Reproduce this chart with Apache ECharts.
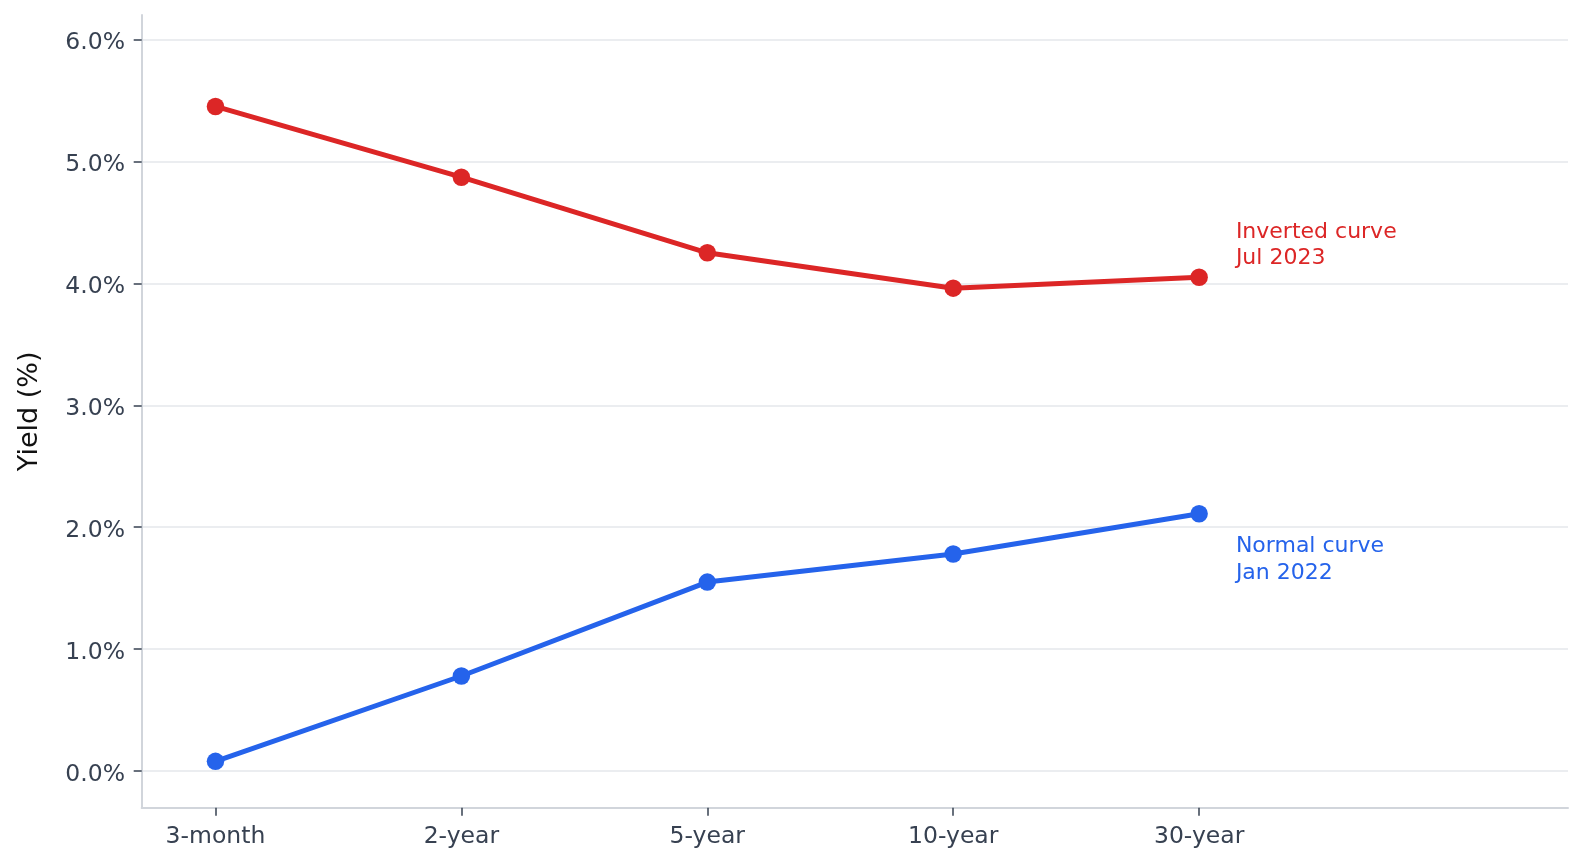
<!DOCTYPE html>
<html>
<head>
<meta charset="utf-8">
<script src="https://cdn.jsdelivr.net/npm/echarts@6/dist/echarts.min.js"></script>
<style>
	html, body { margin: 0; padding: 0; background: #fff; }
	#chart { width: 1584px; height: 864px; }
</style>
</head>
<body>
<div id="chart"></div>
<script>
// Yield curves - normal vs inverted
var maturities = ['3-month', '2-year', '5-year', '10-year', '30-year'];
var normalJan2022 = [0.08, 0.78, 1.55, 1.78, 2.11];
var invertedJul2023 = [5.45, 4.87, 4.25, 3.96, 4.05];
var yTicks = [0, 1, 2, 3, 4, 5, 6];
var xTicks = [0, 1, 2, 3, 4];

var RED = '#dc2626';
var BLUE = '#2563eb';
var FONT = 'DejaVu Sans';

var toPoints = function(values) {
	return values.map(function(v, i) { return [i, v]; });
};

var curveSeries = function(name, values, color, labelText, offsetY) {
	var pts = toPoints(values);
	var last = pts.length - 1;
	return {
		name: name,
		type: 'line',
		data: pts.map(function(p, i) {
			if (i !== last) return p;
			return {
				value: p,
				label: {
					show: true,
					position: 'right',
					distance: 0,
					offset: [28, offsetY],
					align: 'left',
					verticalAlign: 'middle',
					formatter: labelText,
					color: color,
					fontFamily: FONT,
					fontSize: 22,
					lineHeight: 26.7
				}
			};
		}),
		symbol: 'circle',
		symbolSize: 17.5,
		lineStyle: { color: color, width: 5 },
		itemStyle: { color: color },
		z: 3
	};
};

var myChart = echarts.init(document.getElementById('chart'), null, { renderer: 'canvas' });
var option = {
	animation: false,
	backgroundColor: '#ffffff',
	grid: {
		left: 141.7,
		right: 16,
		top: 15,
		bottom: 56.3
	},
	xAxis: {
		type: 'value',
		min: -0.3,
		max: 5.5,
		axisLine: { show: true, onZero: false, lineStyle: { color: '#d1d5db', width: 2 } },
		axisTick: {
			show: true,
			inside: false,
			customValues: xTicks,
			length: 8,
			lineStyle: { color: '#374151', width: 1.5 }
		},
		axisLabel: {
			customValues: xTicks,
			margin: 17,
			color: '#374151',
			fontFamily: FONT,
			fontSize: 23.5,
			formatter: function(v) { return maturities[Math.round(v)] || ''; }
		},
		splitLine: { show: false }
	},
	yAxis: {
		type: 'value',
		min: -0.3,
		max: 6.2,
		name: 'Yield (%)',
		nameLocation: 'middle',
		nameGap: 98,
		nameTextStyle: { color: '#111111', fontFamily: FONT, fontSize: 27 },
		axisLine: { show: true, onZero: false, lineStyle: { color: '#d1d5db', width: 2 } },
		axisTick: {
			show: true,
			inside: false,
			customValues: yTicks,
			length: 8,
			lineStyle: { color: '#374151', width: 1.5 }
		},
		axisLabel: {
			customValues: yTicks,
			margin: 16.7,
			color: '#374151',
			fontFamily: FONT,
			fontSize: 23.5,
			formatter: function(v) { return '{t|' + v.toFixed(1) + '%}'; },
			rich: {
				t: {
					color: '#374151',
					fontFamily: FONT,
					fontSize: 23.5,
					padding: [7, 0, 0, 0]
				}
			}
		},
		splitLine: { show: true, lineStyle: { color: '#e5e7eb', width: 1.5 } }
	},
	series: [
		curveSeries('Inverted curve (Jul 2023)', invertedJul2023, RED, 'Inverted curve\nJul 2023', -32),
		curveSeries('Normal curve (Jan 2022)', normalJan2022, BLUE, 'Normal curve\nJan 2022', 46)
	]
};
myChart.setOption(option);
</script>
</body>
</html>
